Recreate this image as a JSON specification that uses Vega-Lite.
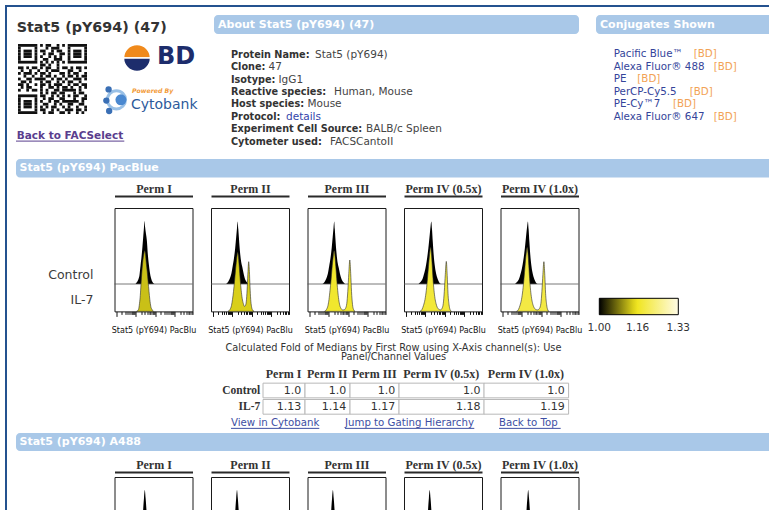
{
"$schema":"https://vega.github.io/schema/vega-lite/v6.json",
"background":"#ffffff",
"padding":{"left":5,"top":5,"right":0,"bottom":0},
"config":{
 "view":{"stroke":null},
 "font":"DejaVu Sans",
 "legend":{"orient":"none","legendX":594.3,"legendY":293.3,"direction":"horizontal","gradientLength":79,"gradientThickness":16.4,"gradientStrokeColor":"#000000","gradientStrokeWidth":1,"labelFont":"DejaVu Sans","labelFontSize":10.5,"labelColor":"#333333","labelAlign":"center","labelOffset":8.5,"labelOverlap":false,"padding":0}
},
"datasets":{
 "about":[
  {"line":1,"label":"Protein Name:","value":"Stat5 (pY694)"},
  {"line":2,"label":"Clone:","value":"47"},
  {"line":3,"label":"Isotype:","value":"IgG1"},
  {"line":4,"label":"Reactive species:","value":"Human, Mouse"},
  {"line":5,"label":"Host species:","value":"Mouse"},
  {"line":6,"label":"Protocol:","value":"details"},
  {"line":7,"label":"Experiment Cell Source:","value":"BALB/c Spleen"},
  {"line":8,"label":"Cytometer used:","value":"FACSCantoII"}
 ],
 "conj":[
  {"line":1,"name":"Pacific Blue™","vendor":"[BD]"},
  {"line":2,"name":"Alexa Fluor® 488","vendor":"[BD]"},
  {"line":3,"name":"PE","vendor":"[BD]"},
  {"line":4,"name":"PerCP-Cy5.5","vendor":"[BD]"},
  {"line":5,"name":"PE-Cy™7","vendor":"[BD]"},
  {"line":6,"name":"Alexa Fluor® 647","vendor":"[BD]"}
 ],
 "fold":[
  {"perm":"Perm I","condition":"Control","fold":1.0},{"perm":"Perm I","condition":"IL-7","fold":1.13},
  {"perm":"Perm II","condition":"Control","fold":1.0},{"perm":"Perm II","condition":"IL-7","fold":1.14},
  {"perm":"Perm III","condition":"Control","fold":1.0},{"perm":"Perm III","condition":"IL-7","fold":1.17},
  {"perm":"Perm IV (0.5x)","condition":"Control","fold":1.0},{"perm":"Perm IV (0.5x)","condition":"IL-7","fold":1.18},
  {"perm":"Perm IV (1.0x)","condition":"Control","fold":1.0},{"perm":"Perm IV (1.0x)","condition":"IL-7","fold":1.19}
 ],
 "qr":[
  {"row":0,"start":0,"end":7},{"row":0,"start":8,"end":9},{"row":0,"start":10,"end":12},{"row":0,"start":14,"end":15},{"row":0,"start":16,"end":17},{"row":0,"start":18,"end":25},
  {"row":1,"start":0,"end":1},{"row":1,"start":6,"end":7},{"row":1,"start":10,"end":11},{"row":1,"start":12,"end":15},{"row":1,"start":18,"end":19},{"row":1,"start":24,"end":25},
  {"row":2,"start":0,"end":1},{"row":2,"start":2,"end":5},{"row":2,"start":6,"end":7},{"row":2,"start":8,"end":10},{"row":2,"start":12,"end":13},{"row":2,"start":14,"end":16},{"row":2,"start":18,"end":19},{"row":2,"start":20,"end":23},{"row":2,"start":24,"end":25},
  {"row":3,"start":0,"end":1},{"row":3,"start":2,"end":5},{"row":3,"start":6,"end":7},{"row":3,"start":9,"end":10},{"row":3,"start":11,"end":13},{"row":3,"start":15,"end":17},{"row":3,"start":18,"end":19},{"row":3,"start":20,"end":23},{"row":3,"start":24,"end":25},
  {"row":4,"start":0,"end":1},{"row":4,"start":2,"end":5},{"row":4,"start":6,"end":7},{"row":4,"start":8,"end":9},{"row":4,"start":11,"end":12},{"row":4,"start":13,"end":14},{"row":4,"start":15,"end":16},{"row":4,"start":18,"end":19},{"row":4,"start":20,"end":23},{"row":4,"start":24,"end":25},
  {"row":5,"start":0,"end":1},{"row":5,"start":6,"end":7},{"row":5,"start":9,"end":11},{"row":5,"start":13,"end":16},{"row":5,"start":18,"end":19},{"row":5,"start":24,"end":25},
  {"row":6,"start":0,"end":7},{"row":6,"start":8,"end":9},{"row":6,"start":10,"end":11},{"row":6,"start":12,"end":13},{"row":6,"start":14,"end":15},{"row":6,"start":16,"end":17},{"row":6,"start":18,"end":25},
  {"row":7,"start":8,"end":10},{"row":7,"start":11,"end":12},{"row":7,"start":14,"end":15},
  {"row":8,"start":0,"end":2},{"row":8,"start":3,"end":4},{"row":8,"start":5,"end":7},{"row":8,"start":8,"end":9},{"row":8,"start":10,"end":12},{"row":8,"start":14,"end":15},{"row":8,"start":16,"end":18},{"row":8,"start":19,"end":20},{"row":8,"start":21,"end":23},{"row":8,"start":24,"end":25},
  {"row":9,"start":1,"end":2},{"row":9,"start":4,"end":5},{"row":9,"start":7,"end":8},{"row":9,"start":10,"end":11},{"row":9,"start":12,"end":15},{"row":9,"start":18,"end":20},{"row":9,"start":22,"end":23},
  {"row":10,"start":0,"end":1},{"row":10,"start":2,"end":5},{"row":10,"start":6,"end":7},{"row":10,"start":8,"end":10},{"row":10,"start":11,"end":12},{"row":10,"start":15,"end":17},{"row":10,"start":18,"end":19},{"row":10,"start":20,"end":22},{"row":10,"start":24,"end":25},
  {"row":11,"start":2,"end":3},{"row":11,"start":5,"end":6},{"row":11,"start":8,"end":9},{"row":11,"start":10,"end":12},{"row":11,"start":13,"end":14},{"row":11,"start":16,"end":17},{"row":11,"start":18,"end":20},{"row":11,"start":21,"end":22},{"row":11,"start":23,"end":25},
  {"row":12,"start":0,"end":1},{"row":12,"start":3,"end":5},{"row":12,"start":6,"end":10},{"row":12,"start":12,"end":13},{"row":12,"start":14,"end":16},{"row":12,"start":17,"end":18},{"row":12,"start":20,"end":23},{"row":12,"start":24,"end":25},
  {"row":13,"start":1,"end":3},{"row":13,"start":4,"end":5},{"row":13,"start":8,"end":9},{"row":13,"start":10,"end":12},{"row":13,"start":14,"end":15},{"row":13,"start":16,"end":17},{"row":13,"start":18,"end":20},{"row":13,"start":22,"end":23},
  {"row":14,"start":0,"end":2},{"row":14,"start":3,"end":4},{"row":14,"start":6,"end":7},{"row":14,"start":8,"end":10},{"row":14,"start":11,"end":12},{"row":14,"start":13,"end":16},{"row":14,"start":18,"end":19},{"row":14,"start":20,"end":22},{"row":14,"start":23,"end":25},
  {"row":15,"start":1,"end":2},{"row":15,"start":3,"end":5},{"row":15,"start":8,"end":9},{"row":15,"start":11,"end":13},{"row":15,"start":14,"end":15},{"row":15,"start":16,"end":18},{"row":15,"start":19,"end":20},{"row":15,"start":22,"end":23},{"row":15,"start":24,"end":25},
  {"row":16,"start":0,"end":1},{"row":16,"start":3,"end":4},{"row":16,"start":5,"end":7},{"row":16,"start":8,"end":9},{"row":16,"start":10,"end":11},{"row":16,"start":13,"end":15},{"row":16,"start":16,"end":21},{"row":16,"start":22,"end":23},
  {"row":17,"start":8,"end":9},{"row":17,"start":10,"end":11},{"row":17,"start":12,"end":14},{"row":17,"start":15,"end":17},{"row":17,"start":20,"end":21},{"row":17,"start":22,"end":24},
  {"row":18,"start":0,"end":7},{"row":18,"start":8,"end":10},{"row":18,"start":12,"end":13},{"row":18,"start":14,"end":15},{"row":18,"start":16,"end":17},{"row":18,"start":18,"end":19},{"row":18,"start":20,"end":22},{"row":18,"start":24,"end":25},
  {"row":19,"start":0,"end":1},{"row":19,"start":6,"end":7},{"row":19,"start":9,"end":10},{"row":19,"start":11,"end":13},{"row":19,"start":15,"end":17},{"row":19,"start":20,"end":21},{"row":19,"start":23,"end":25},
  {"row":20,"start":0,"end":1},{"row":20,"start":2,"end":5},{"row":20,"start":6,"end":7},{"row":20,"start":8,"end":9},{"row":20,"start":11,"end":12},{"row":20,"start":13,"end":15},{"row":20,"start":16,"end":22},{"row":20,"start":23,"end":24},
  {"row":21,"start":0,"end":1},{"row":21,"start":2,"end":5},{"row":21,"start":6,"end":7},{"row":21,"start":9,"end":11},{"row":21,"start":13,"end":14},{"row":21,"start":15,"end":16},{"row":21,"start":18,"end":20},{"row":21,"start":22,"end":24},
  {"row":22,"start":0,"end":1},{"row":22,"start":2,"end":5},{"row":22,"start":6,"end":7},{"row":22,"start":8,"end":9},{"row":22,"start":10,"end":11},{"row":22,"start":12,"end":14},{"row":22,"start":16,"end":17},{"row":22,"start":18,"end":19},{"row":22,"start":21,"end":22},{"row":22,"start":24,"end":25},
  {"row":23,"start":0,"end":1},{"row":23,"start":6,"end":7},{"row":23,"start":8,"end":10},{"row":23,"start":12,"end":13},{"row":23,"start":14,"end":15},{"row":23,"start":17,"end":20},{"row":23,"start":21,"end":23},{"row":23,"start":24,"end":25},
  {"row":24,"start":0,"end":7},{"row":24,"start":9,"end":10},{"row":24,"start":11,"end":13},{"row":24,"start":15,"end":17},{"row":24,"start":18,"end":19},{"row":24,"start":21,"end":22},{"row":24,"start":23,"end":24}
 ],
 "pacblue":[
  {"perm":"Perm I","sample":"Control","ch":21,"count":0,"fold":1},{"perm":"Perm I","sample":"Control","ch":22.5,"count":2,"fold":1},{"perm":"Perm I","sample":"Control","ch":24,"count":5,"fold":1},{"perm":"Perm I","sample":"Control","ch":25,"count":9,"fold":1},{"perm":"Perm I","sample":"Control","ch":26,"count":18,"fold":1},{"perm":"Perm I","sample":"Control","ch":27,"count":27,"fold":1},{"perm":"Perm I","sample":"Control","ch":28,"count":38,"fold":1},{"perm":"Perm I","sample":"Control","ch":28.8,"count":48,"fold":1},{"perm":"Perm I","sample":"Control","ch":29.5,"count":57,"fold":1},{"perm":"Perm I","sample":"Control","ch":30,"count":63,"fold":1},{"perm":"Perm I","sample":"Control","ch":30.6,"count":57,"fold":1},{"perm":"Perm I","sample":"Control","ch":31.5,"count":50,"fold":1},{"perm":"Perm I","sample":"Control","ch":32.4,"count":43,"fold":1},{"perm":"Perm I","sample":"Control","ch":33.3,"count":30,"fold":1},{"perm":"Perm I","sample":"Control","ch":34.3,"count":20,"fold":1},{"perm":"Perm I","sample":"Control","ch":35.3,"count":12,"fold":1},{"perm":"Perm I","sample":"Control","ch":36.5,"count":6,"fold":1},{"perm":"Perm I","sample":"Control","ch":38,"count":2,"fold":1},{"perm":"Perm I","sample":"Control","ch":40,"count":0,"fold":1},
  {"perm":"Perm I","sample":"IL-7","ch":22,"count":0,"fold":1.13},{"perm":"Perm I","sample":"IL-7","ch":24,"count":2,"fold":1.13},{"perm":"Perm I","sample":"IL-7","ch":25,"count":8,"fold":1.13},{"perm":"Perm I","sample":"IL-7","ch":25.8,"count":16,"fold":1.13},{"perm":"Perm I","sample":"IL-7","ch":26.5,"count":27,"fold":1.13},{"perm":"Perm I","sample":"IL-7","ch":27.4,"count":40,"fold":1.13},{"perm":"Perm I","sample":"IL-7","ch":28.3,"count":50,"fold":1.13},{"perm":"Perm I","sample":"IL-7","ch":29.3,"count":57,"fold":1.13},{"perm":"Perm I","sample":"IL-7","ch":30.2,"count":60.7,"fold":1.13},{"perm":"Perm I","sample":"IL-7","ch":31,"count":57,"fold":1.13},{"perm":"Perm I","sample":"IL-7","ch":31.8,"count":48,"fold":1.13},{"perm":"Perm I","sample":"IL-7","ch":32.7,"count":40,"fold":1.13},{"perm":"Perm I","sample":"IL-7","ch":33.6,"count":30,"fold":1.13},{"perm":"Perm I","sample":"IL-7","ch":34.5,"count":20,"fold":1.13},{"perm":"Perm I","sample":"IL-7","ch":35.3,"count":12,"fold":1.13},{"perm":"Perm I","sample":"IL-7","ch":36.3,"count":5,"fold":1.13},{"perm":"Perm I","sample":"IL-7","ch":37.5,"count":2,"fold":1.13},{"perm":"Perm I","sample":"IL-7","ch":39,"count":0,"fold":1.13},
  {"perm":"Perm II","sample":"Control","ch":15,"count":0,"fold":1},{"perm":"Perm II","sample":"Control","ch":17,"count":2,"fold":1},{"perm":"Perm II","sample":"Control","ch":19,"count":6,"fold":1},{"perm":"Perm II","sample":"Control","ch":20.5,"count":11,"fold":1},{"perm":"Perm II","sample":"Control","ch":21.7,"count":18,"fold":1},{"perm":"Perm II","sample":"Control","ch":23,"count":26,"fold":1},{"perm":"Perm II","sample":"Control","ch":24.2,"count":36,"fold":1},{"perm":"Perm II","sample":"Control","ch":25.2,"count":47,"fold":1},{"perm":"Perm II","sample":"Control","ch":26,"count":56,"fold":1},{"perm":"Perm II","sample":"Control","ch":26.7,"count":62.6,"fold":1},{"perm":"Perm II","sample":"Control","ch":27.3,"count":55,"fold":1},{"perm":"Perm II","sample":"Control","ch":28,"count":45,"fold":1},{"perm":"Perm II","sample":"Control","ch":29,"count":32,"fold":1},{"perm":"Perm II","sample":"Control","ch":30.2,"count":22,"fold":1},{"perm":"Perm II","sample":"Control","ch":31.3,"count":17,"fold":1},{"perm":"Perm II","sample":"Control","ch":32.5,"count":11,"fold":1},{"perm":"Perm II","sample":"Control","ch":34,"count":5,"fold":1},{"perm":"Perm II","sample":"Control","ch":35.7,"count":2,"fold":1},{"perm":"Perm II","sample":"Control","ch":37.5,"count":0,"fold":1},
  {"perm":"Perm II","sample":"IL-7","ch":17,"count":0,"fold":1.14},{"perm":"Perm II","sample":"IL-7","ch":19,"count":2,"fold":1.14},{"perm":"Perm II","sample":"IL-7","ch":20.5,"count":6,"fold":1.14},{"perm":"Perm II","sample":"IL-7","ch":21.5,"count":12,"fold":1.14},{"perm":"Perm II","sample":"IL-7","ch":22.5,"count":20,"fold":1.14},{"perm":"Perm II","sample":"IL-7","ch":23.5,"count":30,"fold":1.14},{"perm":"Perm II","sample":"IL-7","ch":24.5,"count":41,"fold":1.14},{"perm":"Perm II","sample":"IL-7","ch":25.5,"count":51,"fold":1.14},{"perm":"Perm II","sample":"IL-7","ch":26.7,"count":59,"fold":1.14},{"perm":"Perm II","sample":"IL-7","ch":27.5,"count":54,"fold":1.14},{"perm":"Perm II","sample":"IL-7","ch":28.3,"count":44,"fold":1.14},{"perm":"Perm II","sample":"IL-7","ch":29.2,"count":32,"fold":1.14},{"perm":"Perm II","sample":"IL-7","ch":30.2,"count":21,"fold":1.14},{"perm":"Perm II","sample":"IL-7","ch":31.2,"count":13,"fold":1.14},{"perm":"Perm II","sample":"IL-7","ch":32.3,"count":8,"fold":1.14},{"perm":"Perm II","sample":"IL-7","ch":33.5,"count":5,"fold":1.14},{"perm":"Perm II","sample":"IL-7","ch":34.5,"count":6,"fold":1.14},{"perm":"Perm II","sample":"IL-7","ch":35.5,"count":12,"fold":1.14},{"perm":"Perm II","sample":"IL-7","ch":36.3,"count":25,"fold":1.14},{"perm":"Perm II","sample":"IL-7","ch":37,"count":40,"fold":1.14},{"perm":"Perm II","sample":"IL-7","ch":37.7,"count":49.7,"fold":1.14},{"perm":"Perm II","sample":"IL-7","ch":38.4,"count":40,"fold":1.14},{"perm":"Perm II","sample":"IL-7","ch":39,"count":25,"fold":1.14},{"perm":"Perm II","sample":"IL-7","ch":39.7,"count":12,"fold":1.14},{"perm":"Perm II","sample":"IL-7","ch":40.5,"count":5,"fold":1.14},{"perm":"Perm II","sample":"IL-7","ch":41.5,"count":1.5,"fold":1.14},{"perm":"Perm II","sample":"IL-7","ch":43,"count":0,"fold":1.14},
  {"perm":"Perm III","sample":"Control","ch":15,"count":0,"fold":1},{"perm":"Perm III","sample":"Control","ch":17,"count":2,"fold":1},{"perm":"Perm III","sample":"Control","ch":19,"count":6,"fold":1},{"perm":"Perm III","sample":"Control","ch":20.5,"count":11,"fold":1},{"perm":"Perm III","sample":"Control","ch":21.7,"count":18,"fold":1},{"perm":"Perm III","sample":"Control","ch":23,"count":26,"fold":1},{"perm":"Perm III","sample":"Control","ch":24.2,"count":36,"fold":1},{"perm":"Perm III","sample":"Control","ch":25.2,"count":47,"fold":1},{"perm":"Perm III","sample":"Control","ch":26,"count":56,"fold":1},{"perm":"Perm III","sample":"Control","ch":26.7,"count":62.6,"fold":1},{"perm":"Perm III","sample":"Control","ch":27.3,"count":55,"fold":1},{"perm":"Perm III","sample":"Control","ch":28,"count":44,"fold":1},{"perm":"Perm III","sample":"Control","ch":29,"count":31,"fold":1},{"perm":"Perm III","sample":"Control","ch":30.2,"count":21,"fold":1},{"perm":"Perm III","sample":"Control","ch":31.3,"count":16,"fold":1},{"perm":"Perm III","sample":"Control","ch":32.5,"count":10,"fold":1},{"perm":"Perm III","sample":"Control","ch":34,"count":5,"fold":1},{"perm":"Perm III","sample":"Control","ch":35.7,"count":2,"fold":1},{"perm":"Perm III","sample":"Control","ch":37.5,"count":0,"fold":1},
  {"perm":"Perm III","sample":"IL-7","ch":17,"count":0,"fold":1.17},{"perm":"Perm III","sample":"IL-7","ch":19,"count":2,"fold":1.17},{"perm":"Perm III","sample":"IL-7","ch":20.5,"count":6,"fold":1.17},{"perm":"Perm III","sample":"IL-7","ch":21.5,"count":12,"fold":1.17},{"perm":"Perm III","sample":"IL-7","ch":22.5,"count":21,"fold":1.17},{"perm":"Perm III","sample":"IL-7","ch":23.5,"count":31,"fold":1.17},{"perm":"Perm III","sample":"IL-7","ch":24.5,"count":43,"fold":1.17},{"perm":"Perm III","sample":"IL-7","ch":25.5,"count":53,"fold":1.17},{"perm":"Perm III","sample":"IL-7","ch":26.7,"count":60.7,"fold":1.17},{"perm":"Perm III","sample":"IL-7","ch":27.5,"count":55,"fold":1.17},{"perm":"Perm III","sample":"IL-7","ch":28.3,"count":45,"fold":1.17},{"perm":"Perm III","sample":"IL-7","ch":29.2,"count":33,"fold":1.17},{"perm":"Perm III","sample":"IL-7","ch":30.2,"count":21,"fold":1.17},{"perm":"Perm III","sample":"IL-7","ch":31.2,"count":12,"fold":1.17},{"perm":"Perm III","sample":"IL-7","ch":32.3,"count":6,"fold":1.17},{"perm":"Perm III","sample":"IL-7","ch":33.5,"count":3,"fold":1.17},{"perm":"Perm III","sample":"IL-7","ch":35,"count":1.5,"fold":1.17},{"perm":"Perm III","sample":"IL-7","ch":36.5,"count":1.5,"fold":1.17},{"perm":"Perm III","sample":"IL-7","ch":38,"count":3,"fold":1.17},{"perm":"Perm III","sample":"IL-7","ch":39.3,"count":8,"fold":1.17},{"perm":"Perm III","sample":"IL-7","ch":40.3,"count":20,"fold":1.17},{"perm":"Perm III","sample":"IL-7","ch":41.3,"count":38,"fold":1.17},{"perm":"Perm III","sample":"IL-7","ch":42.3,"count":51.4,"fold":1.17},{"perm":"Perm III","sample":"IL-7","ch":43.2,"count":38,"fold":1.17},{"perm":"Perm III","sample":"IL-7","ch":44,"count":20,"fold":1.17},{"perm":"Perm III","sample":"IL-7","ch":45,"count":7,"fold":1.17},{"perm":"Perm III","sample":"IL-7","ch":46,"count":2,"fold":1.17},{"perm":"Perm III","sample":"IL-7","ch":47.5,"count":0,"fold":1.17},
  {"perm":"Perm IV (0.5x)","sample":"Control","ch":14.5,"count":0,"fold":1},{"perm":"Perm IV (0.5x)","sample":"Control","ch":16.5,"count":2,"fold":1},{"perm":"Perm IV (0.5x)","sample":"Control","ch":18.5,"count":5,"fold":1},{"perm":"Perm IV (0.5x)","sample":"Control","ch":20,"count":10,"fold":1},{"perm":"Perm IV (0.5x)","sample":"Control","ch":21.5,"count":16,"fold":1},{"perm":"Perm IV (0.5x)","sample":"Control","ch":22.7,"count":23,"fold":1},{"perm":"Perm IV (0.5x)","sample":"Control","ch":23.8,"count":31,"fold":1},{"perm":"Perm IV (0.5x)","sample":"Control","ch":24.8,"count":40,"fold":1},{"perm":"Perm IV (0.5x)","sample":"Control","ch":25.8,"count":50,"fold":1},{"perm":"Perm IV (0.5x)","sample":"Control","ch":26.6,"count":58,"fold":1},{"perm":"Perm IV (0.5x)","sample":"Control","ch":27.3,"count":62.6,"fold":1},{"perm":"Perm IV (0.5x)","sample":"Control","ch":28,"count":55,"fold":1},{"perm":"Perm IV (0.5x)","sample":"Control","ch":28.8,"count":42,"fold":1},{"perm":"Perm IV (0.5x)","sample":"Control","ch":29.7,"count":29,"fold":1},{"perm":"Perm IV (0.5x)","sample":"Control","ch":30.7,"count":19,"fold":1},{"perm":"Perm IV (0.5x)","sample":"Control","ch":31.8,"count":12,"fold":1},{"perm":"Perm IV (0.5x)","sample":"Control","ch":33,"count":7,"fold":1},{"perm":"Perm IV (0.5x)","sample":"Control","ch":34.5,"count":3,"fold":1},{"perm":"Perm IV (0.5x)","sample":"Control","ch":36,"count":0.5,"fold":1},{"perm":"Perm IV (0.5x)","sample":"Control","ch":37,"count":0,"fold":1},
  {"perm":"Perm IV (0.5x)","sample":"IL-7","ch":16,"count":0,"fold":1.18},{"perm":"Perm IV (0.5x)","sample":"IL-7","ch":18,"count":2,"fold":1.18},{"perm":"Perm IV (0.5x)","sample":"IL-7","ch":19.5,"count":6,"fold":1.18},{"perm":"Perm IV (0.5x)","sample":"IL-7","ch":21,"count":12,"fold":1.18},{"perm":"Perm IV (0.5x)","sample":"IL-7","ch":22.3,"count":21,"fold":1.18},{"perm":"Perm IV (0.5x)","sample":"IL-7","ch":23.5,"count":33,"fold":1.18},{"perm":"Perm IV (0.5x)","sample":"IL-7","ch":24.5,"count":45,"fold":1.18},{"perm":"Perm IV (0.5x)","sample":"IL-7","ch":25.6,"count":57,"fold":1.18},{"perm":"Perm IV (0.5x)","sample":"IL-7","ch":26.6,"count":64,"fold":1.18},{"perm":"Perm IV (0.5x)","sample":"IL-7","ch":27.4,"count":58,"fold":1.18},{"perm":"Perm IV (0.5x)","sample":"IL-7","ch":28.2,"count":46,"fold":1.18},{"perm":"Perm IV (0.5x)","sample":"IL-7","ch":29,"count":33,"fold":1.18},{"perm":"Perm IV (0.5x)","sample":"IL-7","ch":30,"count":21,"fold":1.18},{"perm":"Perm IV (0.5x)","sample":"IL-7","ch":31,"count":13,"fold":1.18},{"perm":"Perm IV (0.5x)","sample":"IL-7","ch":32,"count":8,"fold":1.18},{"perm":"Perm IV (0.5x)","sample":"IL-7","ch":33.3,"count":4,"fold":1.18},{"perm":"Perm IV (0.5x)","sample":"IL-7","ch":35,"count":2,"fold":1.18},{"perm":"Perm IV (0.5x)","sample":"IL-7","ch":36.5,"count":1.5,"fold":1.18},{"perm":"Perm IV (0.5x)","sample":"IL-7","ch":38,"count":3,"fold":1.18},{"perm":"Perm IV (0.5x)","sample":"IL-7","ch":39.3,"count":8,"fold":1.18},{"perm":"Perm IV (0.5x)","sample":"IL-7","ch":40.3,"count":20,"fold":1.18},{"perm":"Perm IV (0.5x)","sample":"IL-7","ch":41.3,"count":37,"fold":1.18},{"perm":"Perm IV (0.5x)","sample":"IL-7","ch":42.3,"count":50,"fold":1.18},{"perm":"Perm IV (0.5x)","sample":"IL-7","ch":43.2,"count":36,"fold":1.18},{"perm":"Perm IV (0.5x)","sample":"IL-7","ch":44,"count":18,"fold":1.18},{"perm":"Perm IV (0.5x)","sample":"IL-7","ch":45,"count":7,"fold":1.18},{"perm":"Perm IV (0.5x)","sample":"IL-7","ch":46,"count":2,"fold":1.18},{"perm":"Perm IV (0.5x)","sample":"IL-7","ch":47.5,"count":0,"fold":1.18},
  {"perm":"Perm IV (1.0x)","sample":"Control","ch":14.5,"count":0,"fold":1},{"perm":"Perm IV (1.0x)","sample":"Control","ch":16.5,"count":2,"fold":1},{"perm":"Perm IV (1.0x)","sample":"Control","ch":18.5,"count":5,"fold":1},{"perm":"Perm IV (1.0x)","sample":"Control","ch":20,"count":10,"fold":1},{"perm":"Perm IV (1.0x)","sample":"Control","ch":21.5,"count":16,"fold":1},{"perm":"Perm IV (1.0x)","sample":"Control","ch":22.7,"count":23,"fold":1},{"perm":"Perm IV (1.0x)","sample":"Control","ch":23.8,"count":31,"fold":1},{"perm":"Perm IV (1.0x)","sample":"Control","ch":24.8,"count":40,"fold":1},{"perm":"Perm IV (1.0x)","sample":"Control","ch":25.8,"count":50,"fold":1},{"perm":"Perm IV (1.0x)","sample":"Control","ch":26.7,"count":58,"fold":1},{"perm":"Perm IV (1.0x)","sample":"Control","ch":27.4,"count":62.6,"fold":1},{"perm":"Perm IV (1.0x)","sample":"Control","ch":28.1,"count":55,"fold":1},{"perm":"Perm IV (1.0x)","sample":"Control","ch":28.9,"count":42,"fold":1},{"perm":"Perm IV (1.0x)","sample":"Control","ch":29.8,"count":29,"fold":1},{"perm":"Perm IV (1.0x)","sample":"Control","ch":30.8,"count":19,"fold":1},{"perm":"Perm IV (1.0x)","sample":"Control","ch":31.9,"count":12,"fold":1},{"perm":"Perm IV (1.0x)","sample":"Control","ch":33.1,"count":7,"fold":1},{"perm":"Perm IV (1.0x)","sample":"Control","ch":34.6,"count":3,"fold":1},{"perm":"Perm IV (1.0x)","sample":"Control","ch":36.1,"count":0.5,"fold":1},{"perm":"Perm IV (1.0x)","sample":"Control","ch":37.1,"count":0,"fold":1},
  {"perm":"Perm IV (1.0x)","sample":"IL-7","ch":16,"count":0,"fold":1.19},{"perm":"Perm IV (1.0x)","sample":"IL-7","ch":18,"count":2,"fold":1.19},{"perm":"Perm IV (1.0x)","sample":"IL-7","ch":19.5,"count":6,"fold":1.19},{"perm":"Perm IV (1.0x)","sample":"IL-7","ch":21,"count":12,"fold":1.19},{"perm":"Perm IV (1.0x)","sample":"IL-7","ch":22.3,"count":21,"fold":1.19},{"perm":"Perm IV (1.0x)","sample":"IL-7","ch":23.5,"count":33,"fold":1.19},{"perm":"Perm IV (1.0x)","sample":"IL-7","ch":24.5,"count":45,"fold":1.19},{"perm":"Perm IV (1.0x)","sample":"IL-7","ch":25.6,"count":57,"fold":1.19},{"perm":"Perm IV (1.0x)","sample":"IL-7","ch":26.7,"count":64,"fold":1.19},{"perm":"Perm IV (1.0x)","sample":"IL-7","ch":27.5,"count":58,"fold":1.19},{"perm":"Perm IV (1.0x)","sample":"IL-7","ch":28.3,"count":46,"fold":1.19},{"perm":"Perm IV (1.0x)","sample":"IL-7","ch":29.1,"count":33,"fold":1.19},{"perm":"Perm IV (1.0x)","sample":"IL-7","ch":30.1,"count":21,"fold":1.19},{"perm":"Perm IV (1.0x)","sample":"IL-7","ch":31.1,"count":13,"fold":1.19},{"perm":"Perm IV (1.0x)","sample":"IL-7","ch":32.1,"count":8,"fold":1.19},{"perm":"Perm IV (1.0x)","sample":"IL-7","ch":33.5,"count":4,"fold":1.19},{"perm":"Perm IV (1.0x)","sample":"IL-7","ch":35.2,"count":2,"fold":1.19},{"perm":"Perm IV (1.0x)","sample":"IL-7","ch":37,"count":1.5,"fold":1.19},{"perm":"Perm IV (1.0x)","sample":"IL-7","ch":39,"count":3,"fold":1.19},{"perm":"Perm IV (1.0x)","sample":"IL-7","ch":40.4,"count":8,"fold":1.19},{"perm":"Perm IV (1.0x)","sample":"IL-7","ch":41.4,"count":20,"fold":1.19},{"perm":"Perm IV (1.0x)","sample":"IL-7","ch":42.4,"count":37,"fold":1.19},{"perm":"Perm IV (1.0x)","sample":"IL-7","ch":43.4,"count":49.7,"fold":1.19},{"perm":"Perm IV (1.0x)","sample":"IL-7","ch":44.3,"count":36,"fold":1.19},{"perm":"Perm IV (1.0x)","sample":"IL-7","ch":45.1,"count":18,"fold":1.19},{"perm":"Perm IV (1.0x)","sample":"IL-7","ch":46.1,"count":7,"fold":1.19},{"perm":"Perm IV (1.0x)","sample":"IL-7","ch":47.1,"count":2,"fold":1.19},{"perm":"Perm IV (1.0x)","sample":"IL-7","ch":48.5,"count":0,"fold":1.19}
 ],
 "a488":[
  {"perm":"Perm I","ch":22.3,"count":0,"fold":1},{"perm":"Perm I","ch":25.3,"count":3,"fold":1},{"perm":"Perm I","ch":26.8,"count":10,"fold":1},{"perm":"Perm I","ch":27.8,"count":22,"fold":1},{"perm":"Perm I","ch":28.5,"count":40,"fold":1},{"perm":"Perm I","ch":29.5,"count":55,"fold":1},{"perm":"Perm I","ch":30.3,"count":63,"fold":1},{"perm":"Perm I","ch":31.1,"count":55,"fold":1},{"perm":"Perm I","ch":32.1,"count":40,"fold":1},{"perm":"Perm I","ch":32.8,"count":22,"fold":1},{"perm":"Perm I","ch":33.8,"count":10,"fold":1},{"perm":"Perm I","ch":35.3,"count":3,"fold":1},{"perm":"Perm I","ch":38.3,"count":0,"fold":1},
  {"perm":"Perm II","ch":18,"count":0,"fold":1},{"perm":"Perm II","ch":21,"count":3,"fold":1},{"perm":"Perm II","ch":22.5,"count":10,"fold":1},{"perm":"Perm II","ch":23.5,"count":22,"fold":1},{"perm":"Perm II","ch":24.2,"count":40,"fold":1},{"perm":"Perm II","ch":25.2,"count":55,"fold":1},{"perm":"Perm II","ch":26,"count":63,"fold":1},{"perm":"Perm II","ch":26.8,"count":55,"fold":1},{"perm":"Perm II","ch":27.8,"count":40,"fold":1},{"perm":"Perm II","ch":28.5,"count":22,"fold":1},{"perm":"Perm II","ch":29.5,"count":10,"fold":1},{"perm":"Perm II","ch":31,"count":3,"fold":1},{"perm":"Perm II","ch":34,"count":0,"fold":1},
  {"perm":"Perm III","ch":17.4,"count":0,"fold":1},{"perm":"Perm III","ch":20.4,"count":3,"fold":1},{"perm":"Perm III","ch":21.9,"count":10,"fold":1},{"perm":"Perm III","ch":22.9,"count":22,"fold":1},{"perm":"Perm III","ch":23.6,"count":40,"fold":1},{"perm":"Perm III","ch":24.6,"count":55,"fold":1},{"perm":"Perm III","ch":25.4,"count":63,"fold":1},{"perm":"Perm III","ch":26.2,"count":55,"fold":1},{"perm":"Perm III","ch":27.2,"count":40,"fold":1},{"perm":"Perm III","ch":27.9,"count":22,"fold":1},{"perm":"Perm III","ch":28.9,"count":10,"fold":1},{"perm":"Perm III","ch":30.4,"count":3,"fold":1},{"perm":"Perm III","ch":33.4,"count":0,"fold":1},
  {"perm":"Perm IV (0.5x)","ch":17.7,"count":0,"fold":1},{"perm":"Perm IV (0.5x)","ch":20.7,"count":3,"fold":1},{"perm":"Perm IV (0.5x)","ch":22.2,"count":10,"fold":1},{"perm":"Perm IV (0.5x)","ch":23.2,"count":22,"fold":1},{"perm":"Perm IV (0.5x)","ch":23.9,"count":40,"fold":1},{"perm":"Perm IV (0.5x)","ch":24.9,"count":55,"fold":1},{"perm":"Perm IV (0.5x)","ch":25.7,"count":63,"fold":1},{"perm":"Perm IV (0.5x)","ch":26.5,"count":55,"fold":1},{"perm":"Perm IV (0.5x)","ch":27.5,"count":40,"fold":1},{"perm":"Perm IV (0.5x)","ch":28.2,"count":22,"fold":1},{"perm":"Perm IV (0.5x)","ch":29.2,"count":10,"fold":1},{"perm":"Perm IV (0.5x)","ch":30.7,"count":3,"fold":1},{"perm":"Perm IV (0.5x)","ch":33.7,"count":0,"fold":1},
  {"perm":"Perm IV (1.0x)","ch":19.7,"count":0,"fold":1},{"perm":"Perm IV (1.0x)","ch":22.7,"count":3,"fold":1},{"perm":"Perm IV (1.0x)","ch":24.2,"count":10,"fold":1},{"perm":"Perm IV (1.0x)","ch":25.2,"count":22,"fold":1},{"perm":"Perm IV (1.0x)","ch":25.9,"count":40,"fold":1},{"perm":"Perm IV (1.0x)","ch":26.9,"count":55,"fold":1},{"perm":"Perm IV (1.0x)","ch":27.7,"count":63,"fold":1},{"perm":"Perm IV (1.0x)","ch":28.5,"count":55,"fold":1},{"perm":"Perm IV (1.0x)","ch":29.5,"count":40,"fold":1},{"perm":"Perm IV (1.0x)","ch":30.2,"count":22,"fold":1},{"perm":"Perm IV (1.0x)","ch":31.2,"count":10,"fold":1},{"perm":"Perm IV (1.0x)","ch":32.7,"count":3,"fold":1},{"perm":"Perm IV (1.0x)","ch":35.7,"count":0,"fold":1}
 ]
},
"bounds":"full",
"spacing":0,
"vconcat":[
 {"width":764,"height":2,"view":{"fill":"#24528f","stroke":null},"data":{"values":[]},"mark":{"type":"point","opacity":0}},
 {"bounds":"full","spacing":8,"hconcat":[
  {"width":2,"height":503,"view":{"fill":"#24528f","stroke":null},"data":{"values":[]},"mark":{"type":"point","opacity":0}},
  {"bounds":"full","spacing":0,"vconcat":[
   {"width":1,"height":8,"data":{"values":[]},"mark":{"type":"point","opacity":0}},
   {"bounds":"full","spacing":0,"hconcat":[
    {"bounds":"full","spacing":0,"vconcat":[
     {"width":196,"height":25.4,"data":{"values":[{"title":"Stat5 (pY694) (47)"}]},
      "mark":{"type":"text","align":"left","baseline":"middle","fontSize":14.3,"fontWeight":"bold","color":"#333333","dx":0.7},
      "encoding":{"text":{"field":"title"},"x":{"datum":0,"scale":{"domain":[0,1]},"axis":null}}},
     {"bounds":"full","spacing":0,"hconcat":[
      {"width":2,"height":70,"data":{"values":[]},"mark":{"type":"point","opacity":0}},
      {"width":69,"height":70,"data":{"name":"qr"},"mark":{"type":"rect","color":"#111111"},
       "encoding":{"x":{"field":"start","type":"quantitative","scale":{"domain":[0,25],"nice":false,"zero":false},"axis":null},"x2":{"field":"end"},
        "y":{"field":"row","type":"ordinal","scale":{"type":"band","paddingInner":0,"paddingOuter":0},"axis":null}}},
      {"width":14,"height":70,"data":{"values":[]},"mark":{"type":"point","opacity":0}},
      {"bounds":"full","spacing":0,"vconcat":[
       {"bounds":"flush","spacing":0,"hconcat":[
        {"width":20,"height":30,"data":{"values":[]},"mark":{"type":"point","opacity":0}},
        {"width":28,"height":28,"data":{"values":[{"part":"sun","share":1},{"part":"base","share":1}]},
         "mark":{"type":"arc","radius":13.5,"thetaOffset":-1.5708,"theta2Offset":-1.5708,"stroke":"#ffffff","strokeWidth":1.5},
         "encoding":{"theta":{"field":"share","type":"quantitative","stack":true},
          "color":{"field":"part","type":"nominal","scale":{"domain":["sun","base"],"range":["#f08a1c","#1d2d6c"]},"legend":null},
          "order":{"field":"part","sort":"descending"}}},
        {"width":2,"height":28,"data":{"values":[]},"mark":{"type":"point","opacity":0}},
        {"width":61,"height":30,"data":{"values":[{"brand":"BD"}]},
         "mark":{"type":"text","align":"left","baseline":"middle","fontSize":24,"fontWeight":"bold","color":"#1d2d6c","dx":4,"dy":-2},
         "encoding":{"text":{"field":"brand"},"x":{"datum":0,"scale":{"domain":[0,1]},"axis":null}}}
       ]},
       {"bounds":"flush","spacing":0,"hconcat":[
        {"width":28,"height":40,
         "encoding":{"x":{"field":"cx","type":"quantitative","scale":{"domain":[0,1]},"axis":null},"y":{"field":"cy","type":"quantitative","scale":{"domain":[0,1],"reverse":true},"axis":null}},
         "layer":[
          {"data":{"values":[{"cx":0.48,"cy":0.62}]},"mark":{"type":"point","filled":false,"stroke":"#6fa6dc","strokeWidth":3,"size":330}},
          {"data":{"values":[{"cx":0.2,"cy":0.36},{"cx":0.12,"cy":0.64},{"cx":0.22,"cy":0.9}]},"mark":{"type":"point","filled":true,"color":"#3a6fb5","opacity":1,"size":40}},
          {"data":{"values":[{"cx":0.64,"cy":0.62}]},"mark":{"type":"point","filled":true,"color":"#4a88d0","opacity":1,"size":120}}
         ]},
        {"width":83,"height":40,"data":{"values":[{"line":"Powered By"},{"line":"Cytobank"}]},
         "encoding":{"text":{"field":"line"},"x":{"datum":0,"scale":{"domain":[0,1]},"axis":null},
          "y":{"field":"line","type":"nominal","scale":{"type":"point","domain":["Powered By","Cytobank"],"range":[15.6,29.6],"padding":0},"axis":null}},
         "layer":[
          {"transform":[{"filter":"datum.line == 'Powered By'"}],"mark":{"type":"text","align":"left","baseline":"middle","fontSize":6.2,"fontWeight":"bold","fontStyle":"italic","color":"#f29a38","dx":1}},
          {"transform":[{"filter":"datum.line == 'Cytobank'"}],"mark":{"type":"text","align":"left","baseline":"middle","fontSize":14,"color":"#2c5a9b"}}
         ]}
       ]}
      ]}
     ]},
     {"width":108.3,"height":43.5,"data":{"values":[{"link":"Back to FACSelect","underline":0.4}]},
      "encoding":{"x":{"datum":0,"scale":{"domain":[0,1]},"axis":null}},
      "layer":[
       {"mark":{"type":"text","align":"left","baseline":"middle","fontSize":10.5,"fontWeight":"bold","color":"#5a3e8e","dx":0.7},"encoding":{"text":{"field":"link"},"y":{"datum":0.52,"type":"quantitative","scale":{"domain":[0,1]},"axis":null}}},
       {"mark":{"type":"rule","color":"#5a3e8e","strokeWidth":1},"encoding":{"x":null,"y":{"field":"underline","type":"quantitative","scale":{"domain":[0,1]},"axis":null}}}
      ]}
    ]},
    {"bounds":"flush","spacing":14.5,"vconcat":[
     {"width":365,"height":19,"view":{"fill":"#a9c8e8","stroke":null,"cornerRadius":4},"data":{"values":[{"title":"About Stat5 (pY694) (47)"}]},
      "mark":{"type":"text","align":"left","baseline":"middle","fontSize":11,"fontWeight":"bold","color":"#ffffff","dx":4},
      "encoding":{"text":{"field":"title"},"x":{"datum":0,"scale":{"domain":[0,1]},"axis":null}}},
     {"width":382,"height":99.4,"data":{"name":"about"},
      "encoding":{"x":{"datum":0,"scale":{"domain":[0,1]},"axis":null},"y":{"field":"line","type":"ordinal","scale":{"type":"point","padding":0.5},"axis":null}},
      "layer":[
       {"mark":{"type":"text","align":"left","baseline":"middle","fontSize":9.7,"fontWeight":"bold","color":"#333333","dx":17},"encoding":{"text":{"field":"label"}}},
       {"transform":[{"filter":"datum.line == 1"}],"mark":{"type":"text","align":"left","baseline":"middle","fontSize":10.5,"color":"#444444","dx":101},"encoding":{"text":{"field":"value"}}},
       {"transform":[{"filter":"datum.line == 2"}],"mark":{"type":"text","align":"left","baseline":"middle","fontSize":10.5,"color":"#444444","dx":54.5},"encoding":{"text":{"field":"value"}}},
       {"transform":[{"filter":"datum.line == 3"}],"mark":{"type":"text","align":"left","baseline":"middle","fontSize":10.5,"color":"#444444","dx":64.5},"encoding":{"text":{"field":"value"}}},
       {"transform":[{"filter":"datum.line == 4"}],"mark":{"type":"text","align":"left","baseline":"middle","fontSize":10.5,"color":"#444444","dx":120},"encoding":{"text":{"field":"value"}}},
       {"transform":[{"filter":"datum.line == 5"}],"mark":{"type":"text","align":"left","baseline":"middle","fontSize":10.5,"color":"#444444","dx":93.5},"encoding":{"text":{"field":"value"}}},
       {"transform":[{"filter":"datum.line == 6"}],"mark":{"type":"text","align":"left","baseline":"middle","fontSize":10.5,"color":"#3344aa","dx":72},"encoding":{"text":{"field":"value"}}},
       {"transform":[{"filter":"datum.line == 7"}],"mark":{"type":"text","align":"left","baseline":"middle","fontSize":10.5,"color":"#444444","dx":152},"encoding":{"text":{"field":"value"}}},
       {"transform":[{"filter":"datum.line == 8"}],"mark":{"type":"text","align":"left","baseline":"middle","fontSize":10.5,"color":"#444444","dx":116},"encoding":{"text":{"field":"value"}}}
      ]}
    ]},
    {"bounds":"flush","spacing":14.1,"vconcat":[
     {"width":180,"height":19,"view":{"fill":"#a9c8e8","stroke":null,"cornerRadius":4},"data":{"values":[{"title":"Conjugates Shown"}]},
      "mark":{"type":"text","align":"left","baseline":"middle","fontSize":11,"fontWeight":"bold","color":"#ffffff","dx":4},
      "encoding":{"text":{"field":"title"},"x":{"datum":0,"scale":{"domain":[0,1]},"axis":null}}},
     {"width":176,"height":75.1,"data":{"name":"conj"},
      "encoding":{"x":{"datum":0,"scale":{"domain":[0,1]},"axis":null},"y":{"field":"line","type":"ordinal","scale":{"type":"point","padding":0.5},"axis":null}},
      "layer":[
       {"mark":{"type":"text","align":"left","baseline":"middle","fontSize":10.3,"color":"#34449a","dx":17.7},"encoding":{"text":{"field":"name"}}},
       {"transform":[{"filter":"datum.line == 1"}],"mark":{"type":"text","align":"left","baseline":"middle","fontSize":10.3,"color":"#f2a255","dx":97.7},"encoding":{"text":{"field":"vendor"}}},
       {"transform":[{"filter":"datum.line == 2"}],"mark":{"type":"text","align":"left","baseline":"middle","fontSize":10.3,"color":"#f2a255","dx":117.7},"encoding":{"text":{"field":"vendor"}}},
       {"transform":[{"filter":"datum.line == 3"}],"mark":{"type":"text","align":"left","baseline":"middle","fontSize":10.3,"color":"#f2a255","dx":41.3},"encoding":{"text":{"field":"vendor"}}},
       {"transform":[{"filter":"datum.line == 4"}],"mark":{"type":"text","align":"left","baseline":"middle","fontSize":10.3,"color":"#f2a255","dx":93.7},"encoding":{"text":{"field":"vendor"}}},
       {"transform":[{"filter":"datum.line == 5"}],"mark":{"type":"text","align":"left","baseline":"middle","fontSize":10.3,"color":"#f2a255","dx":77},"encoding":{"text":{"field":"vendor"}}},
       {"transform":[{"filter":"datum.line == 6"}],"mark":{"type":"text","align":"left","baseline":"middle","fontSize":10.3,"color":"#f2a255","dx":117.7},"encoding":{"text":{"field":"vendor"}}}
      ]}
    ]}
   ]},
   {"width":760,"height":18.5,"view":{"fill":"#a9c8e8","stroke":null,"cornerRadius":4},"data":{"values":[{"title":"Stat5 (pY694) PacBlue"}]},
    "mark":{"type":"text","align":"left","baseline":"middle","fontSize":11,"fontWeight":"bold","color":"#ffffff","dx":3.5},
    "encoding":{"text":{"field":"title"},"x":{"datum":0,"scale":{"domain":[0,1]},"axis":null}}},
   {"width":1,"height":2.4,"data":{"values":[]},"mark":{"type":"point","opacity":0}},
   {"bounds":"flush","spacing":18.5,"hconcat":[
    {"width":79.8,"height":103.4,"data":{"values":[]},"mark":{"type":"point","opacity":0}},
    {"width":78,"height":103.4,"view":{"stroke":"#1a1a1a","strokeWidth":1},"data":{"name":"pacblue"},
     "layer":[
      {"transform":[{"filter":"datum.perm == 'Perm I' && datum.sample == 'Control'"}],"mark":{"type":"area","interpolate":"monotone"},
       "encoding":{"x":{"field":"ch","type":"quantitative","scale":{"domain":[0,78],"nice":false,"zero":false},"axis":null},
        "y":{"field":"count","type":"quantitative","scale":{"domain":[-27.4,76],"nice":false,"zero":false},
         "axis":{"orient":"left","values":[10,-15.7],"labelExpr":"datum.value > 0 ? 'Control' : 'IL-7'","ticks":false,"tickSize":0,"domain":false,"grid":false,"title":null,"labelFont":"DejaVu Sans","labelFontSize":12.5,"labelColor":"#3c3c3c","labelPadding":21.6,"labelBaseline":"middle","labelFlush":false,"labelOverlap":false}},
        "fill":{"field":"fold","type":"quantitative","scale":{"domain":[1,1.155,1.33],"range":["#000000","#f0e51c","#fffbe6"],"interpolate":"rgb"},"legend":{"values":[1,1.16,1.33],"format":".2f","title":null,"labelOffset":8.5,"encode":{"labels":{"update":{"align":{"value":"center"}}}}}}}},
      {"data":{"values":[{"level":0}]},"mark":{"type":"rule","color":"#555555","strokeWidth":0.8},
       "encoding":{"y":{"field":"level","type":"quantitative","scale":{"domain":[-27.4,76],"nice":false,"zero":false},"axis":null}}},
      {"transform":[{"filter":"datum.perm == 'Perm I' && datum.sample == 'IL-7'"}],"mark":{"type":"area","interpolate":"monotone","stroke":"#2b2b2b","strokeWidth":0.6},
       "encoding":{"x":{"field":"ch","type":"quantitative","scale":{"domain":[0,78],"nice":false,"zero":false},
         "axis":{"orient":"bottom","values":[1.5,7.4,10.8,13.2,15.1,16.7,18,19.1,20.1,21,26.9,30.3,32.7,34.6,36.2,37.5,38.6,39.6,40.5,46.4,49.8,52.2,54.1,55.7,57,58.1,59.1,60,65.9,69.3,71.7,73.6,75.2,76.5,77.6],"labels":false,"domain":false,"grid":false,"tickColor":"#111111","tickWidth":1,"tickSize":{"condition":{"test":"datum.value == 1.5 || datum.value == 21 || datum.value == 40.5 || datum.value == 60","value":5},"value":3},"title":"Stat5 (pY694) PacBlu","titleFont":"DejaVu Sans","titleFontSize":8,"titleFontWeight":"normal","titleColor":"#111111","titlePadding":10}},
        "y":{"field":"count","type":"quantitative","scale":{"domain":[0,103.4],"nice":false,"zero":false},"axis":null},
        "fill":{"field":"fold","type":"quantitative","scale":{"domain":[1,1.155,1.33],"range":["#000000","#f0e51c","#fffbe6"],"interpolate":"rgb"},"legend":{"values":[1,1.16,1.33],"format":".2f","title":null,"labelOffset":8.5,"encode":{"labels":{"update":{"align":{"value":"center"}}}}}}}},
      {"data":{"values":[{"perm":"Perm I"}]},"mark":{"type":"point","opacity":0},
       "encoding":{"x":{"field":"perm","type":"nominal","axis":{"orient":"top","title":null,"ticks":false,"tickSize":0,"domainColor":"#2a2a2a","domainWidth":2,"offset":12,"labelFont":"Liberation Serif","labelFontWeight":"bold","labelFontSize":12,"labelColor":"#333333","labelPadding":1,"labelAngle":0}}}}
     ],
     "resolve":{"scale":{"x":"independent","y":"independent"}}},
    {"width":78,"height":103.4,"view":{"stroke":"#1a1a1a","strokeWidth":1},"data":{"name":"pacblue"},
     "layer":[
      {"transform":[{"filter":"datum.perm == 'Perm II' && datum.sample == 'Control'"}],"mark":{"type":"area","interpolate":"monotone"},
       "encoding":{"x":{"field":"ch","type":"quantitative","scale":{"domain":[0,78],"nice":false,"zero":false},"axis":null},
        "y":{"field":"count","type":"quantitative","scale":{"domain":[-27.4,76],"nice":false,"zero":false},"axis":null},
        "fill":{"field":"fold","type":"quantitative","scale":{"domain":[1,1.155,1.33],"range":["#000000","#f0e51c","#fffbe6"],"interpolate":"rgb"},"legend":{"values":[1,1.16,1.33],"format":".2f","title":null,"labelOffset":8.5,"encode":{"labels":{"update":{"align":{"value":"center"}}}}}}}},
      {"data":{"values":[{"level":0}]},"mark":{"type":"rule","color":"#555555","strokeWidth":0.8},
       "encoding":{"y":{"field":"level","type":"quantitative","scale":{"domain":[-27.4,76],"nice":false,"zero":false},"axis":null}}},
      {"transform":[{"filter":"datum.perm == 'Perm II' && datum.sample == 'IL-7'"}],"mark":{"type":"area","interpolate":"monotone","stroke":"#2b2b2b","strokeWidth":0.6},
       "encoding":{"x":{"field":"ch","type":"quantitative","scale":{"domain":[0,78],"nice":false,"zero":false},
         "axis":{"orient":"bottom","values":[1.5,7.4,10.8,13.2,15.1,16.7,18,19.1,20.1,21,26.9,30.3,32.7,34.6,36.2,37.5,38.6,39.6,40.5,46.4,49.8,52.2,54.1,55.7,57,58.1,59.1,60,65.9,69.3,71.7,73.6,75.2,76.5,77.6],"labels":false,"domain":false,"grid":false,"tickColor":"#111111","tickWidth":1,"tickSize":{"condition":{"test":"datum.value == 1.5 || datum.value == 21 || datum.value == 40.5 || datum.value == 60","value":5},"value":3},"title":"Stat5 (pY694) PacBlu","titleFont":"DejaVu Sans","titleFontSize":8,"titleFontWeight":"normal","titleColor":"#111111","titlePadding":10}},
        "y":{"field":"count","type":"quantitative","scale":{"domain":[0,103.4],"nice":false,"zero":false},"axis":null},
        "fill":{"field":"fold","type":"quantitative","scale":{"domain":[1,1.155,1.33],"range":["#000000","#f0e51c","#fffbe6"],"interpolate":"rgb"},"legend":{"values":[1,1.16,1.33],"format":".2f","title":null,"labelOffset":8.5,"encode":{"labels":{"update":{"align":{"value":"center"}}}}}}}},
      {"data":{"values":[{"perm":"Perm II"}]},"mark":{"type":"point","opacity":0},
       "encoding":{"x":{"field":"perm","type":"nominal","axis":{"orient":"top","title":null,"ticks":false,"tickSize":0,"domainColor":"#2a2a2a","domainWidth":2,"offset":12,"labelFont":"Liberation Serif","labelFontWeight":"bold","labelFontSize":12,"labelColor":"#333333","labelPadding":1,"labelAngle":0}}}}
     ],
     "resolve":{"scale":{"x":"independent","y":"independent"}}},
    {"width":78,"height":103.4,"view":{"stroke":"#1a1a1a","strokeWidth":1},"data":{"name":"pacblue"},
     "layer":[
      {"transform":[{"filter":"datum.perm == 'Perm III' && datum.sample == 'Control'"}],"mark":{"type":"area","interpolate":"monotone"},
       "encoding":{"x":{"field":"ch","type":"quantitative","scale":{"domain":[0,78],"nice":false,"zero":false},"axis":null},
        "y":{"field":"count","type":"quantitative","scale":{"domain":[-27.4,76],"nice":false,"zero":false},"axis":null},
        "fill":{"field":"fold","type":"quantitative","scale":{"domain":[1,1.155,1.33],"range":["#000000","#f0e51c","#fffbe6"],"interpolate":"rgb"},"legend":{"values":[1,1.16,1.33],"format":".2f","title":null,"labelOffset":8.5,"encode":{"labels":{"update":{"align":{"value":"center"}}}}}}}},
      {"data":{"values":[{"level":0}]},"mark":{"type":"rule","color":"#555555","strokeWidth":0.8},
       "encoding":{"y":{"field":"level","type":"quantitative","scale":{"domain":[-27.4,76],"nice":false,"zero":false},"axis":null}}},
      {"transform":[{"filter":"datum.perm == 'Perm III' && datum.sample == 'IL-7'"}],"mark":{"type":"area","interpolate":"monotone","stroke":"#2b2b2b","strokeWidth":0.6},
       "encoding":{"x":{"field":"ch","type":"quantitative","scale":{"domain":[0,78],"nice":false,"zero":false},
         "axis":{"orient":"bottom","values":[1.5,7.4,10.8,13.2,15.1,16.7,18,19.1,20.1,21,26.9,30.3,32.7,34.6,36.2,37.5,38.6,39.6,40.5,46.4,49.8,52.2,54.1,55.7,57,58.1,59.1,60,65.9,69.3,71.7,73.6,75.2,76.5,77.6],"labels":false,"domain":false,"grid":false,"tickColor":"#111111","tickWidth":1,"tickSize":{"condition":{"test":"datum.value == 1.5 || datum.value == 21 || datum.value == 40.5 || datum.value == 60","value":5},"value":3},"title":"Stat5 (pY694) PacBlu","titleFont":"DejaVu Sans","titleFontSize":8,"titleFontWeight":"normal","titleColor":"#111111","titlePadding":10}},
        "y":{"field":"count","type":"quantitative","scale":{"domain":[0,103.4],"nice":false,"zero":false},"axis":null},
        "fill":{"field":"fold","type":"quantitative","scale":{"domain":[1,1.155,1.33],"range":["#000000","#f0e51c","#fffbe6"],"interpolate":"rgb"},"legend":{"values":[1,1.16,1.33],"format":".2f","title":null,"labelOffset":8.5,"encode":{"labels":{"update":{"align":{"value":"center"}}}}}}}},
      {"data":{"values":[{"perm":"Perm III"}]},"mark":{"type":"point","opacity":0},
       "encoding":{"x":{"field":"perm","type":"nominal","axis":{"orient":"top","title":null,"ticks":false,"tickSize":0,"domainColor":"#2a2a2a","domainWidth":2,"offset":12,"labelFont":"Liberation Serif","labelFontWeight":"bold","labelFontSize":12,"labelColor":"#333333","labelPadding":1,"labelAngle":0}}}}
     ],
     "resolve":{"scale":{"x":"independent","y":"independent"}}},
    {"width":78,"height":103.4,"view":{"stroke":"#1a1a1a","strokeWidth":1},"data":{"name":"pacblue"},
     "layer":[
      {"transform":[{"filter":"datum.perm == 'Perm IV (0.5x)' && datum.sample == 'Control'"}],"mark":{"type":"area","interpolate":"monotone"},
       "encoding":{"x":{"field":"ch","type":"quantitative","scale":{"domain":[0,78],"nice":false,"zero":false},"axis":null},
        "y":{"field":"count","type":"quantitative","scale":{"domain":[-27.4,76],"nice":false,"zero":false},"axis":null},
        "fill":{"field":"fold","type":"quantitative","scale":{"domain":[1,1.155,1.33],"range":["#000000","#f0e51c","#fffbe6"],"interpolate":"rgb"},"legend":{"values":[1,1.16,1.33],"format":".2f","title":null,"labelOffset":8.5,"encode":{"labels":{"update":{"align":{"value":"center"}}}}}}}},
      {"data":{"values":[{"level":0}]},"mark":{"type":"rule","color":"#555555","strokeWidth":0.8},
       "encoding":{"y":{"field":"level","type":"quantitative","scale":{"domain":[-27.4,76],"nice":false,"zero":false},"axis":null}}},
      {"transform":[{"filter":"datum.perm == 'Perm IV (0.5x)' && datum.sample == 'IL-7'"}],"mark":{"type":"area","interpolate":"monotone","stroke":"#2b2b2b","strokeWidth":0.6},
       "encoding":{"x":{"field":"ch","type":"quantitative","scale":{"domain":[0,78],"nice":false,"zero":false},
         "axis":{"orient":"bottom","values":[1.5,7.4,10.8,13.2,15.1,16.7,18,19.1,20.1,21,26.9,30.3,32.7,34.6,36.2,37.5,38.6,39.6,40.5,46.4,49.8,52.2,54.1,55.7,57,58.1,59.1,60,65.9,69.3,71.7,73.6,75.2,76.5,77.6],"labels":false,"domain":false,"grid":false,"tickColor":"#111111","tickWidth":1,"tickSize":{"condition":{"test":"datum.value == 1.5 || datum.value == 21 || datum.value == 40.5 || datum.value == 60","value":5},"value":3},"title":"Stat5 (pY694) PacBlu","titleFont":"DejaVu Sans","titleFontSize":8,"titleFontWeight":"normal","titleColor":"#111111","titlePadding":10}},
        "y":{"field":"count","type":"quantitative","scale":{"domain":[0,103.4],"nice":false,"zero":false},"axis":null},
        "fill":{"field":"fold","type":"quantitative","scale":{"domain":[1,1.155,1.33],"range":["#000000","#f0e51c","#fffbe6"],"interpolate":"rgb"},"legend":{"values":[1,1.16,1.33],"format":".2f","title":null,"labelOffset":8.5,"encode":{"labels":{"update":{"align":{"value":"center"}}}}}}}},
      {"data":{"values":[{"perm":"Perm IV (0.5x)"}]},"mark":{"type":"point","opacity":0},
       "encoding":{"x":{"field":"perm","type":"nominal","axis":{"orient":"top","title":null,"ticks":false,"tickSize":0,"domainColor":"#2a2a2a","domainWidth":2,"offset":12,"labelFont":"Liberation Serif","labelFontWeight":"bold","labelFontSize":12,"labelColor":"#333333","labelPadding":1,"labelAngle":0}}}}
     ],
     "resolve":{"scale":{"x":"independent","y":"independent"}}},
    {"width":78,"height":103.4,"view":{"stroke":"#1a1a1a","strokeWidth":1},"data":{"name":"pacblue"},
     "layer":[
      {"transform":[{"filter":"datum.perm == 'Perm IV (1.0x)' && datum.sample == 'Control'"}],"mark":{"type":"area","interpolate":"monotone"},
       "encoding":{"x":{"field":"ch","type":"quantitative","scale":{"domain":[0,78],"nice":false,"zero":false},"axis":null},
        "y":{"field":"count","type":"quantitative","scale":{"domain":[-27.4,76],"nice":false,"zero":false},"axis":null},
        "fill":{"field":"fold","type":"quantitative","scale":{"domain":[1,1.155,1.33],"range":["#000000","#f0e51c","#fffbe6"],"interpolate":"rgb"},"legend":{"values":[1,1.16,1.33],"format":".2f","title":null,"labelOffset":8.5,"encode":{"labels":{"update":{"align":{"value":"center"}}}}}}}},
      {"data":{"values":[{"level":0}]},"mark":{"type":"rule","color":"#555555","strokeWidth":0.8},
       "encoding":{"y":{"field":"level","type":"quantitative","scale":{"domain":[-27.4,76],"nice":false,"zero":false},"axis":null}}},
      {"transform":[{"filter":"datum.perm == 'Perm IV (1.0x)' && datum.sample == 'IL-7'"}],"mark":{"type":"area","interpolate":"monotone","stroke":"#2b2b2b","strokeWidth":0.6},
       "encoding":{"x":{"field":"ch","type":"quantitative","scale":{"domain":[0,78],"nice":false,"zero":false},
         "axis":{"orient":"bottom","values":[1.5,7.4,10.8,13.2,15.1,16.7,18,19.1,20.1,21,26.9,30.3,32.7,34.6,36.2,37.5,38.6,39.6,40.5,46.4,49.8,52.2,54.1,55.7,57,58.1,59.1,60,65.9,69.3,71.7,73.6,75.2,76.5,77.6],"labels":false,"domain":false,"grid":false,"tickColor":"#111111","tickWidth":1,"tickSize":{"condition":{"test":"datum.value == 1.5 || datum.value == 21 || datum.value == 40.5 || datum.value == 60","value":5},"value":3},"title":"Stat5 (pY694) PacBlu","titleFont":"DejaVu Sans","titleFontSize":8,"titleFontWeight":"normal","titleColor":"#111111","titlePadding":10}},
        "y":{"field":"count","type":"quantitative","scale":{"domain":[0,103.4],"nice":false,"zero":false},"axis":null},
        "fill":{"field":"fold","type":"quantitative","scale":{"domain":[1,1.155,1.33],"range":["#000000","#f0e51c","#fffbe6"],"interpolate":"rgb"},"legend":{"values":[1,1.16,1.33],"format":".2f","title":null,"labelOffset":8.5,"encode":{"labels":{"update":{"align":{"value":"center"}}}}}}}},
      {"data":{"values":[{"perm":"Perm IV (1.0x)"}]},"mark":{"type":"point","opacity":0},
       "encoding":{"x":{"field":"perm","type":"nominal","axis":{"orient":"top","title":null,"ticks":false,"tickSize":0,"domainColor":"#2a2a2a","domainWidth":2,"offset":12,"labelFont":"Liberation Serif","labelFontWeight":"bold","labelFontSize":12,"labelColor":"#333333","labelPadding":1,"labelAngle":0}}}}
     ],
     "resolve":{"scale":{"x":"independent","y":"independent"}}}
   ]},
   {"width":1,"height":5.65,"data":{"values":[]},"mark":{"type":"point","opacity":0}},
   {"width":755,"height":19,"data":{"values":[{"line":1,"caption":"Calculated Fold of Medians by First Row using X-Axis channel(s): Use"},{"line":2,"caption":"Panel/Channel Values"}]},
    "mark":{"type":"text","align":"center","baseline":"middle","fontSize":9.8,"color":"#333333"},
    "encoding":{"text":{"field":"caption"},"x":{"datum":0.5,"scale":{"domain":[0,1]},"axis":null},"y":{"field":"line","type":"ordinal","scale":{"type":"point","padding":0.5},"axis":null}}},
   {"width":1,"height":2.85,"data":{"values":[]},"mark":{"type":"point","opacity":0}},
   {"bounds":"flush","spacing":0,"hconcat":[
    {"width":200,"height":49,"data":{"values":[]},"mark":{"type":"point","opacity":0}},
    {"width":47,"height":49,"data":{"name":"fold"},"transform":[{"filter":"datum.perm == 'Perm I'"}],
     "mark":{"type":"text","align":"right","baseline":"middle","font":"Liberation Serif","fontWeight":"bold","fontSize":11.5,"color":"#333333","dx":-2.7},
     "encoding":{"text":{"field":"condition"},"x":{"datum":1,"scale":{"domain":[0,1]},"axis":null},"y":{"field":"condition","type":"nominal","scale":{"type":"band","domain":["header","Control","IL-7"],"paddingInner":0.1,"paddingOuter":0.05},"axis":null}}},
    {"width":41.2,"height":49,"data":{"name":"fold"},"transform":[{"filter":"datum.perm == 'Perm I'"}],
     "encoding":{"x":{"datum":1,"scale":{"domain":[0,1]},"axis":null},"y":{"field":"condition","type":"nominal","scale":{"type":"band","domain":["header","Control","IL-7"],"paddingInner":0.1,"paddingOuter":0.05},"axis":null}},
     "layer":[
      {"mark":{"type":"rect","fill":"#ffffff","stroke":"#b8b8b8","strokeWidth":1,"xOffset":0.8,"x2Offset":-0.8},"encoding":{"x":null}},
      {"transform":[{"filter":"datum.condition == 'Control'"}],"mark":{"type":"text","align":"right","baseline":"middle","fontSize":11,"color":"#333333","dx":-3},"encoding":{"text":{"field":"fold","type":"quantitative","format":".1f"}}},
      {"transform":[{"filter":"datum.condition == 'IL-7'"}],"mark":{"type":"text","align":"right","baseline":"middle","fontSize":11,"color":"#333333","dx":-3},"encoding":{"text":{"field":"fold","type":"quantitative","format":".2f"}}},
      {"transform":[{"filter":"datum.condition == 'Control'"}],"mark":{"type":"text","align":"center","baseline":"middle","font":"Liberation Serif","fontWeight":"bold","fontSize":12,"color":"#333333"},"encoding":{"text":{"field":"perm"},"x":{"datum":0.5,"scale":{"domain":[0,1]},"axis":null},"y":{"datum":"header","type":"nominal","scale":{"type":"band","domain":["header","Control","IL-7"],"paddingInner":0.1,"paddingOuter":0.05},"axis":null}}}
     ]},
    {"width":44.3,"height":49,"data":{"name":"fold"},"transform":[{"filter":"datum.perm == 'Perm II'"}],
     "encoding":{"x":{"datum":1,"scale":{"domain":[0,1]},"axis":null},"y":{"field":"condition","type":"nominal","scale":{"type":"band","domain":["header","Control","IL-7"],"paddingInner":0.1,"paddingOuter":0.05},"axis":null}},
     "layer":[
      {"mark":{"type":"rect","fill":"#ffffff","stroke":"#b8b8b8","strokeWidth":1,"xOffset":0.8,"x2Offset":-0.8},"encoding":{"x":null}},
      {"transform":[{"filter":"datum.condition == 'Control'"}],"mark":{"type":"text","align":"right","baseline":"middle","fontSize":11,"color":"#333333","dx":-3},"encoding":{"text":{"field":"fold","type":"quantitative","format":".1f"}}},
      {"transform":[{"filter":"datum.condition == 'IL-7'"}],"mark":{"type":"text","align":"right","baseline":"middle","fontSize":11,"color":"#333333","dx":-3},"encoding":{"text":{"field":"fold","type":"quantitative","format":".2f"}}},
      {"transform":[{"filter":"datum.condition == 'Control'"}],"mark":{"type":"text","align":"center","baseline":"middle","font":"Liberation Serif","fontWeight":"bold","fontSize":12,"color":"#333333"},"encoding":{"text":{"field":"perm"},"x":{"datum":0.5,"scale":{"domain":[0,1]},"axis":null},"y":{"datum":"header","type":"nominal","scale":{"type":"band","domain":["header","Control","IL-7"],"paddingInner":0.1,"paddingOuter":0.05},"axis":null}}}
     ]},
    {"width":48.3,"height":49,"data":{"name":"fold"},"transform":[{"filter":"datum.perm == 'Perm III'"}],
     "encoding":{"x":{"datum":1,"scale":{"domain":[0,1]},"axis":null},"y":{"field":"condition","type":"nominal","scale":{"type":"band","domain":["header","Control","IL-7"],"paddingInner":0.1,"paddingOuter":0.05},"axis":null}},
     "layer":[
      {"mark":{"type":"rect","fill":"#ffffff","stroke":"#b8b8b8","strokeWidth":1,"xOffset":0.8,"x2Offset":-0.8},"encoding":{"x":null}},
      {"transform":[{"filter":"datum.condition == 'Control'"}],"mark":{"type":"text","align":"right","baseline":"middle","fontSize":11,"color":"#333333","dx":-3},"encoding":{"text":{"field":"fold","type":"quantitative","format":".1f"}}},
      {"transform":[{"filter":"datum.condition == 'IL-7'"}],"mark":{"type":"text","align":"right","baseline":"middle","fontSize":11,"color":"#333333","dx":-3},"encoding":{"text":{"field":"fold","type":"quantitative","format":".2f"}}},
      {"transform":[{"filter":"datum.condition == 'Control'"}],"mark":{"type":"text","align":"center","baseline":"middle","font":"Liberation Serif","fontWeight":"bold","fontSize":12,"color":"#333333"},"encoding":{"text":{"field":"perm"},"x":{"datum":0.5,"scale":{"domain":[0,1]},"axis":null},"y":{"datum":"header","type":"nominal","scale":{"type":"band","domain":["header","Control","IL-7"],"paddingInner":0.1,"paddingOuter":0.05},"axis":null}}}
     ]},
    {"width":84.4,"height":49,"data":{"name":"fold"},"transform":[{"filter":"datum.perm == 'Perm IV (0.5x)'"}],
     "encoding":{"x":{"datum":1,"scale":{"domain":[0,1]},"axis":null},"y":{"field":"condition","type":"nominal","scale":{"type":"band","domain":["header","Control","IL-7"],"paddingInner":0.1,"paddingOuter":0.05},"axis":null}},
     "layer":[
      {"mark":{"type":"rect","fill":"#ffffff","stroke":"#b8b8b8","strokeWidth":1,"xOffset":0.8,"x2Offset":-0.8},"encoding":{"x":null}},
      {"transform":[{"filter":"datum.condition == 'Control'"}],"mark":{"type":"text","align":"right","baseline":"middle","fontSize":11,"color":"#333333","dx":-3},"encoding":{"text":{"field":"fold","type":"quantitative","format":".1f"}}},
      {"transform":[{"filter":"datum.condition == 'IL-7'"}],"mark":{"type":"text","align":"right","baseline":"middle","fontSize":11,"color":"#333333","dx":-3},"encoding":{"text":{"field":"fold","type":"quantitative","format":".2f"}}},
      {"transform":[{"filter":"datum.condition == 'Control'"}],"mark":{"type":"text","align":"center","baseline":"middle","font":"Liberation Serif","fontWeight":"bold","fontSize":12,"color":"#333333"},"encoding":{"text":{"field":"perm"},"x":{"datum":0.5,"scale":{"domain":[0,1]},"axis":null},"y":{"datum":"header","type":"nominal","scale":{"type":"band","domain":["header","Control","IL-7"],"paddingInner":0.1,"paddingOuter":0.05},"axis":null}}}
     ]},
    {"width":83.8,"height":49,"data":{"name":"fold"},"transform":[{"filter":"datum.perm == 'Perm IV (1.0x)'"}],
     "encoding":{"x":{"datum":1,"scale":{"domain":[0,1]},"axis":null},"y":{"field":"condition","type":"nominal","scale":{"type":"band","domain":["header","Control","IL-7"],"paddingInner":0.1,"paddingOuter":0.05},"axis":null}},
     "layer":[
      {"mark":{"type":"rect","fill":"#ffffff","stroke":"#b8b8b8","strokeWidth":1,"xOffset":0.8,"x2Offset":-0.8},"encoding":{"x":null}},
      {"transform":[{"filter":"datum.condition == 'Control'"}],"mark":{"type":"text","align":"right","baseline":"middle","fontSize":11,"color":"#333333","dx":-3},"encoding":{"text":{"field":"fold","type":"quantitative","format":".1f"}}},
      {"transform":[{"filter":"datum.condition == 'IL-7'"}],"mark":{"type":"text","align":"right","baseline":"middle","fontSize":11,"color":"#333333","dx":-3},"encoding":{"text":{"field":"fold","type":"quantitative","format":".2f"}}},
      {"transform":[{"filter":"datum.condition == 'Control'"}],"mark":{"type":"text","align":"center","baseline":"middle","font":"Liberation Serif","fontWeight":"bold","fontSize":12,"color":"#333333"},"encoding":{"text":{"field":"perm"},"x":{"datum":0.5,"scale":{"domain":[0,1]},"axis":null},"y":{"datum":"header","type":"nominal","scale":{"type":"band","domain":["header","Control","IL-7"],"paddingInner":0.1,"paddingOuter":0.05},"axis":null}}}
     ]}
   ]},
   {"bounds":"flush","spacing":0,"hconcat":[
    {"width":215,"height":16.5,"data":{"values":[]},"mark":{"type":"point","opacity":0}},
    {"width":88.3,"height":16.5,"data":{"values":[{"link":"View in Cytobank","underline":0.19}]},
     "encoding":{"x":{"datum":0,"scale":{"domain":[0,1]},"axis":null}},
     "layer":[
      {"mark":{"type":"text","align":"left","baseline":"middle","fontSize":10.2,"color":"#3d4ea3"},"encoding":{"text":{"field":"link"}}},
      {"mark":{"type":"rule","color":"#3d4ea3","strokeWidth":1},"encoding":{"x":null,"y":{"field":"underline","type":"quantitative","scale":{"domain":[0,1]},"axis":null}}}
     ]},
    {"width":24.4,"height":16.5,"data":{"values":[]},"mark":{"type":"point","opacity":0}},
    {"width":129.3,"height":16.5,"data":{"values":[{"link":"Jump to Gating Hierarchy","underline":0.19}]},
     "encoding":{"x":{"datum":0,"scale":{"domain":[0,1]},"axis":null}},
     "layer":[
      {"mark":{"type":"text","align":"left","baseline":"middle","fontSize":10.2,"color":"#3d4ea3"},"encoding":{"text":{"field":"link"}}},
      {"mark":{"type":"rule","color":"#3d4ea3","strokeWidth":1},"encoding":{"x":null,"y":{"field":"underline","type":"quantitative","scale":{"domain":[0,1]},"axis":null}}}
     ]},
    {"width":24,"height":16.5,"data":{"values":[]},"mark":{"type":"point","opacity":0}},
    {"width":61.7,"height":16.5,"data":{"values":[{"link":"Back to Top","underline":0.19}]},
     "encoding":{"x":{"datum":0,"scale":{"domain":[0,1]},"axis":null}},
     "layer":[
      {"mark":{"type":"text","align":"left","baseline":"middle","fontSize":10.2,"color":"#3d4ea3"},"encoding":{"text":{"field":"link"}}},
      {"mark":{"type":"rule","color":"#3d4ea3","strokeWidth":1},"encoding":{"x":null,"y":{"field":"underline","type":"quantitative","scale":{"domain":[0,1]},"axis":null}}}
     ]}
   ]},
   {"width":1,"height":0.6,"data":{"values":[]},"mark":{"type":"point","opacity":0}},
   {"width":760,"height":18,"view":{"fill":"#a9c8e8","stroke":null,"cornerRadius":4},"data":{"values":[{"title":"Stat5 (pY694) A488"}]},
    "mark":{"type":"text","align":"left","baseline":"middle","fontSize":11,"fontWeight":"bold","color":"#ffffff","dx":3.5},
    "encoding":{"text":{"field":"title"},"x":{"datum":0,"scale":{"domain":[0,1]},"axis":null}}},
   {"width":1,"height":5.2,"data":{"values":[]},"mark":{"type":"point","opacity":0}},
   {"bounds":"flush","spacing":18.5,"hconcat":[
    {"width":79.8,"height":103.4,"data":{"values":[]},"mark":{"type":"point","opacity":0}},
    {"width":78,"height":103.4,"view":{"stroke":"#1a1a1a","strokeWidth":1},"data":{"name":"a488"},
     "layer":[
      {"transform":[{"filter":"datum.perm == 'Perm I'"}],"mark":{"type":"area","interpolate":"monotone"},
       "encoding":{"x":{"field":"ch","type":"quantitative","scale":{"domain":[0,78],"nice":false,"zero":false},"axis":null},
        "y":{"field":"count","type":"quantitative","scale":{"domain":[-27.4,76],"nice":false,"zero":false},"axis":null},
        "fill":{"field":"fold","type":"quantitative","scale":{"domain":[1,1.155,1.33],"range":["#000000","#f0e51c","#fffbe6"],"interpolate":"rgb"},"legend":{"values":[1,1.16,1.33],"format":".2f","title":null,"labelOffset":8.5,"encode":{"labels":{"update":{"align":{"value":"center"}}}}}}}},
      {"data":{"values":[{"perm":"Perm I"}]},"mark":{"type":"point","opacity":0},
       "encoding":{"x":{"field":"perm","type":"nominal","axis":{"orient":"top","title":null,"ticks":false,"tickSize":0,"domainColor":"#2a2a2a","domainWidth":2,"offset":5,"labelFont":"Liberation Serif","labelFontWeight":"bold","labelFontSize":12,"labelColor":"#333333","labelPadding":1,"labelAngle":0}}}}
     ],
     "resolve":{"scale":{"x":"independent","y":"independent"}}},
    {"width":78,"height":103.4,"view":{"stroke":"#1a1a1a","strokeWidth":1},"data":{"name":"a488"},
     "layer":[
      {"transform":[{"filter":"datum.perm == 'Perm II'"}],"mark":{"type":"area","interpolate":"monotone"},
       "encoding":{"x":{"field":"ch","type":"quantitative","scale":{"domain":[0,78],"nice":false,"zero":false},"axis":null},
        "y":{"field":"count","type":"quantitative","scale":{"domain":[-27.4,76],"nice":false,"zero":false},"axis":null},
        "fill":{"field":"fold","type":"quantitative","scale":{"domain":[1,1.155,1.33],"range":["#000000","#f0e51c","#fffbe6"],"interpolate":"rgb"},"legend":{"values":[1,1.16,1.33],"format":".2f","title":null,"labelOffset":8.5,"encode":{"labels":{"update":{"align":{"value":"center"}}}}}}}},
      {"data":{"values":[{"perm":"Perm II"}]},"mark":{"type":"point","opacity":0},
       "encoding":{"x":{"field":"perm","type":"nominal","axis":{"orient":"top","title":null,"ticks":false,"tickSize":0,"domainColor":"#2a2a2a","domainWidth":2,"offset":5,"labelFont":"Liberation Serif","labelFontWeight":"bold","labelFontSize":12,"labelColor":"#333333","labelPadding":1,"labelAngle":0}}}}
     ],
     "resolve":{"scale":{"x":"independent","y":"independent"}}},
    {"width":78,"height":103.4,"view":{"stroke":"#1a1a1a","strokeWidth":1},"data":{"name":"a488"},
     "layer":[
      {"transform":[{"filter":"datum.perm == 'Perm III'"}],"mark":{"type":"area","interpolate":"monotone"},
       "encoding":{"x":{"field":"ch","type":"quantitative","scale":{"domain":[0,78],"nice":false,"zero":false},"axis":null},
        "y":{"field":"count","type":"quantitative","scale":{"domain":[-27.4,76],"nice":false,"zero":false},"axis":null},
        "fill":{"field":"fold","type":"quantitative","scale":{"domain":[1,1.155,1.33],"range":["#000000","#f0e51c","#fffbe6"],"interpolate":"rgb"},"legend":{"values":[1,1.16,1.33],"format":".2f","title":null,"labelOffset":8.5,"encode":{"labels":{"update":{"align":{"value":"center"}}}}}}}},
      {"data":{"values":[{"perm":"Perm III"}]},"mark":{"type":"point","opacity":0},
       "encoding":{"x":{"field":"perm","type":"nominal","axis":{"orient":"top","title":null,"ticks":false,"tickSize":0,"domainColor":"#2a2a2a","domainWidth":2,"offset":5,"labelFont":"Liberation Serif","labelFontWeight":"bold","labelFontSize":12,"labelColor":"#333333","labelPadding":1,"labelAngle":0}}}}
     ],
     "resolve":{"scale":{"x":"independent","y":"independent"}}},
    {"width":78,"height":103.4,"view":{"stroke":"#1a1a1a","strokeWidth":1},"data":{"name":"a488"},
     "layer":[
      {"transform":[{"filter":"datum.perm == 'Perm IV (0.5x)'"}],"mark":{"type":"area","interpolate":"monotone"},
       "encoding":{"x":{"field":"ch","type":"quantitative","scale":{"domain":[0,78],"nice":false,"zero":false},"axis":null},
        "y":{"field":"count","type":"quantitative","scale":{"domain":[-27.4,76],"nice":false,"zero":false},"axis":null},
        "fill":{"field":"fold","type":"quantitative","scale":{"domain":[1,1.155,1.33],"range":["#000000","#f0e51c","#fffbe6"],"interpolate":"rgb"},"legend":{"values":[1,1.16,1.33],"format":".2f","title":null,"labelOffset":8.5,"encode":{"labels":{"update":{"align":{"value":"center"}}}}}}}},
      {"data":{"values":[{"perm":"Perm IV (0.5x)"}]},"mark":{"type":"point","opacity":0},
       "encoding":{"x":{"field":"perm","type":"nominal","axis":{"orient":"top","title":null,"ticks":false,"tickSize":0,"domainColor":"#2a2a2a","domainWidth":2,"offset":5,"labelFont":"Liberation Serif","labelFontWeight":"bold","labelFontSize":12,"labelColor":"#333333","labelPadding":1,"labelAngle":0}}}}
     ],
     "resolve":{"scale":{"x":"independent","y":"independent"}}},
    {"width":78,"height":103.4,"view":{"stroke":"#1a1a1a","strokeWidth":1},"data":{"name":"a488"},
     "layer":[
      {"transform":[{"filter":"datum.perm == 'Perm IV (1.0x)'"}],"mark":{"type":"area","interpolate":"monotone"},
       "encoding":{"x":{"field":"ch","type":"quantitative","scale":{"domain":[0,78],"nice":false,"zero":false},"axis":null},
        "y":{"field":"count","type":"quantitative","scale":{"domain":[-27.4,76],"nice":false,"zero":false},"axis":null},
        "fill":{"field":"fold","type":"quantitative","scale":{"domain":[1,1.155,1.33],"range":["#000000","#f0e51c","#fffbe6"],"interpolate":"rgb"},"legend":{"values":[1,1.16,1.33],"format":".2f","title":null,"labelOffset":8.5,"encode":{"labels":{"update":{"align":{"value":"center"}}}}}}}},
      {"data":{"values":[{"perm":"Perm IV (1.0x)"}]},"mark":{"type":"point","opacity":0},
       "encoding":{"x":{"field":"perm","type":"nominal","axis":{"orient":"top","title":null,"ticks":false,"tickSize":0,"domainColor":"#2a2a2a","domainWidth":2,"offset":5,"labelFont":"Liberation Serif","labelFontWeight":"bold","labelFontSize":12,"labelColor":"#333333","labelPadding":1,"labelAngle":0}}}}
     ],
     "resolve":{"scale":{"x":"independent","y":"independent"}}}
   ]}
  ]}
 ]}
]
}
